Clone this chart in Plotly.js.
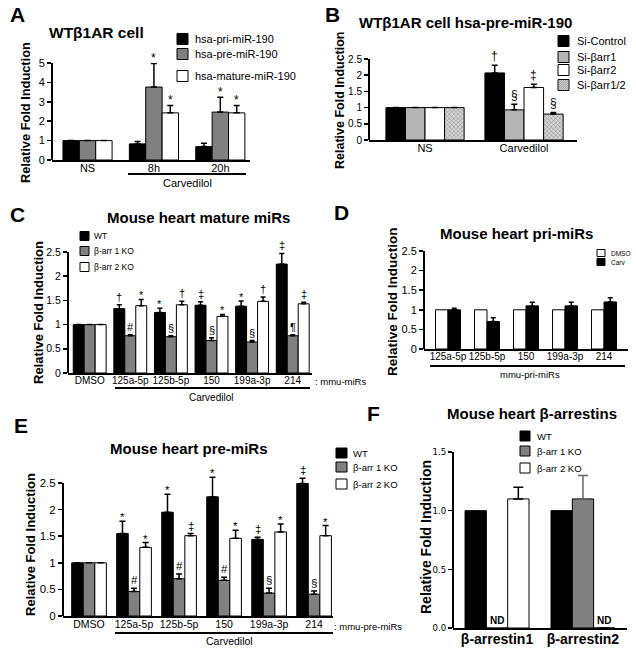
<!DOCTYPE html>
<html><head><meta charset="utf-8">
<script src="https://cdn.plot.ly/plotly-3.0.1.min.js"></script>
<style>html,body{margin:0;padding:0;background:#fff}#chart{width:636px;height:657px}</style>
</head><body><div id="chart"></div>
<script>
// ================= DATA =================
// Panel A: WTβ1AR cell
const A_groups = ['NS', '8h', '20h'];
const A_pri = [1, 0.83, 0.69];
const A_pri_err = [0, 0.12, 0.17];
const A_pre = [1, 3.76, 2.47];
const A_pre_err = [0, 1.22, 0.77];
const A_mature = [1, 2.43, 2.43];
const A_mature_err = [0, 0.38, 0.38];
const A_pri_sig = ['', '', ''];
const A_pre_sig = ['', '*', '*'];
const A_mature_sig = ['', '*', '*'];
const A_names = ['hsa-pri-miR-190', 'hsa-pre-miR-190', 'hsa-mature-miR-190'];

// Panel B: WTβ1AR cell hsa-pre-miR-190
const B_groups = ['NS', 'Carvedilol'];
const B_siControl = [1, 2.07];
const B_siControl_err = [0, 0.24];
const B_siArr1 = [1, 0.93];
const B_siArr1_err = [0, 0.17];
const B_siArr2 = [1, 1.62];
const B_siArr2_err = [0, 0.10];
const B_siArr12 = [1, 0.80];
const B_siArr12_err = [0, 0.05];
const B_siControl_sig = ['', '†'];
const B_siArr1_sig = ['', '§'];
const B_siArr2_sig = ['', '‡'];
const B_siArr12_sig = ['', '§'];
const B_names = ['Si-Control', 'Si-βarr1', 'Si-βarr2', 'Si-βarr1/2'];

// Panel C: Mouse heart mature miRs
const C_groups = ['DMSO', '125a-5p', '125b-5p', '150', '199a-3p', '214'];
const C_wt = [1, 1.33, 1.25, 1.40, 1.38, 2.25];
const C_wt_err = [0, 0.08, 0.09, 0.07, 0.11, 0.22];
const C_ko1 = [1, 0.77, 0.75, 0.67, 0.64, 0.77];
const C_ko1_err = [0, 0.02, 0.02, 0.06, 0.03, 0.02];
const C_ko2 = [1, 1.39, 1.41, 1.17, 1.48, 1.43];
const C_ko2_err = [0, 0.13, 0.07, 0.04, 0.09, 0.03];
const C_wt_sig = ['', '†', '*', '‡', '*', '‡'];
const C_ko1_sig = ['', '#', '§', '§', '§', '¶'];
const C_ko2_sig = ['', '*', '†', '*', '†', '‡'];

// Panel D: Mouse heart pri-miRs
const D_groups = ['125a-5p', '125b-5p', '150', '199a-3p', '214'];
const D_dmso = [1, 1, 1, 1, 1];
const D_carv = [1.0, 0.70, 1.10, 1.10, 1.20];
const D_carv_err = [0.04, 0.10, 0.09, 0.09, 0.11];
const D_names = ['DMSO', 'Carv'];

// Panel E: Mouse heart pre-miRs
const E_groups = ['DMSO', '125a-5p', '125b-5p', '150', '199a-3p', '214'];
const E_wt = [1, 1.55, 1.95, 2.24, 1.44, 2.49];
const E_wt_err = [0, 0.23, 0.34, 0.37, 0.04, 0.10];
const E_ko1 = [1, 0.46, 0.70, 0.67, 0.43, 0.41];
const E_ko1_err = [0, 0.06, 0.09, 0.06, 0.09, 0.06];
const E_ko2 = [1, 1.29, 1.51, 1.46, 1.58, 1.51];
const E_ko2_err = [0, 0.09, 0.04, 0.15, 0.15, 0.19];
const E_wt_sig = ['', '*', '*', '*', '‡', '‡'];
const E_ko1_sig = ['', '#', '#', '#', '§', '§'];
const E_ko2_sig = ['', '*', '‡', '*', '*', '*'];

// Panel F: Mouse heart β-arrestins
const F_groups = ['β-arrestin1', 'β-arrestin2'];
const F_wt = [1, 1];
const F_ko1 = [0, 1.1];
const F_ko1_err = [0, 0.2];
const F_ko2 = [1.1, 0];
const F_ko2_err = [0.1, 0];
const F_ko1_label = ['ND', ''];
const F_ko2_label = ['', 'ND'];

const KO_names = ['WT', 'β-arr 1 KO', 'β-arr 2 KO'];

// ================= BUILD =================
const W = 636, H = 657;
const px = x => x / W;
const py = y => 1 - y / H;
const FONT = 'Arial, "Liberation Sans", Helvetica, sans-serif';
const NARROW = '"Liberation Sans Narrow", "Arial Narrow", "DejaVu Sans Condensed", Arial, sans-serif';
const traces = [], annotations = [], shapes = [];
const layout = {
  width: W, height: H, margin: {l: 0, r: 0, t: 0, b: 0},
  barmode: 'overlay', showlegend: false,
  paper_bgcolor: '#fff', plot_bgcolor: '#fff',
  font: {family: FONT, color: '#000'}
};

function txt(x, y, text, size, opt) {
  opt = opt || {};
  annotations.push(Object.assign({
    xref: 'paper', yref: 'paper', x: px(x), y: py(y), text: text,
    showarrow: false, xanchor: 'center', yanchor: 'middle',
    font: {size: size, family: opt.family || FONT, color: '#000'}
  }, opt.extra || {}));
}
function bold(s) { return '<b>' + s + '</b>'; }
function ytitle(x, y, size) {
  txt(x, y, bold('Relative Fold Induction'), size, {extra: {textangle: -90}});
}
function legendBox(x0, yc, w, h, fill, pattern) {
  shapes.push({type: 'rect', xref: 'paper', yref: 'paper',
    x0: px(x0), x1: px(x0 + w), y0: py(yc + h / 2), y1: py(yc - h / 2),
    fillcolor: fill, line: {color: '#000', width: 1}});
  if (pattern) {
    for (let k = -h; k < w; k += 2.2) {
      const a = Math.max(0, k), b = Math.min(w, k + h);
      shapes.push({type: 'line', xref: 'paper', yref: 'paper',
        x0: px(x0 + a), y0: py(yc + h / 2 - (a - k)), x1: px(x0 + b), y1: py(yc + h / 2 - (b - k)),
        line: {color: '#777', width: 0.6}});
    }
  }
}
function hline(x0, x1, y, w) {
  shapes.push({type: 'line', xref: 'paper', yref: 'paper', x0: px(x0), x1: px(x1), y0: py(y), y1: py(y),
    line: {color: '#000', width: w || 2}});
}

function panel(n, cfg) {
  const xa = n === 1 ? 'x' : 'x' + n, ya = n === 1 ? 'y' : 'y' + n;
  const xk = n === 1 ? 'xaxis' : 'xaxis' + n, yk = n === 1 ? 'yaxis' : 'yaxis' + n;
  const top = cfg.ytop;
  const span = cfg.ydom[0] - cfg.ydom[1];
  const extra = cfg.yextra || 0;
  const topPx = cfg.ydom[1] - span * extra / top;
  layout[xk] = {
    domain: [px(cfg.xdom[0]), px(cfg.xdom[1])], anchor: ya, type: 'category',
    range: cfg.xrange, showline: true, linecolor: '#000', linewidth: 2,
    ticks: '', showgrid: false, zeroline: false, fixedrange: true, tickangle: 0,
    ticklabelstandoff: cfg.xstand !== undefined ? cfg.xstand : -3,
    tickfont: Object.assign({size: 10.5, family: FONT, color: '#000'}, cfg.xtickfont || {})
  };
  const tv = [];
  for (let v = 0; v <= top + 1e-9; v += cfg.dtick) tv.push(+v.toFixed(3));
  layout[yk] = {
    domain: [py(cfg.ydom[0]), py(topPx)], anchor: xa,
    range: [0, top + extra], tickvals: tv, tickformat: cfg.tickformat || '',
    showline: false,
    ticks: 'outside', ticklen: 4, tickwidth: 1.5, tickcolor: '#000',
    showgrid: false, zeroline: false, fixedrange: true,
    tickfont: Object.assign({size: 11, family: FONT, color: '#000'}, cfg.ytickfont || {})
  };
  shapes.push({type: 'line', xref: xa + ' domain', yref: ya, x0: 0, x1: 0, y0: 0, y1: top,
    line: {color: '#000', width: 2}});
  const ns = cfg.series.length;
  const w = cfg.group / ns;
  cfg.series.forEach((s, i) => {
    const off = -cfg.group / 2 + i * w;
    const t = {
      type: 'bar', x: cfg.cats, y: s.y, xaxis: xa, yaxis: ya,
      offset: off, width: w, cliponaxis: false,
      marker: {color: s.color, line: {color: '#000', width: 1}},
      hoverinfo: 'skip'
    };
    if (s.pattern) t.marker.pattern = s.pattern;
    if (s.err) {
      t.error_y = {type: 'data', symmetric: false, array: s.err,
        arrayminus: s.err.map(() => 0), color: s.errColor || '#000',
        thickness: 1.5, width: cfg.capw || 3};
    }
    traces.push(t);
    if (s.sig) {
      s.sig.forEach((sym, j) => {
        if (!sym) return;
        annotations.push({xref: xa, yref: ya, x: j + off + w / 2,
          y: s.y[j] + (s.err ? s.err[j] : 0), text: sym, showarrow: false,
          xanchor: 'center', yanchor: 'bottom', yshift: sym === '*' ? -4 : 0,
          font: {size: cfg.sigsize || 12, family: FONT, color: '#000'}});
      });
    }
    if (s.labels) {
      s.labels.forEach((lab, j) => {
        if (!lab) return;
        annotations.push({xref: xa, yref: ya, x: j + off + w / 2, y: 0, text: bold(lab),
          showarrow: false, xanchor: 'center', yanchor: 'bottom', yshift: 0,
          font: {size: 10, family: FONT, color: '#000'}});
      });
    }
  });
}

const BLACK = '#000', GRAY = '#808080', WHITE = '#fff', LGRAY = '#b4b4b4';

// ---- Panel A ----
panel(1, {
  xdom: [52, 250], ydom: [160, 63], ytop: 5, dtick: 1,
  xrange: [-0.535, 2.447], group: 0.74, cats: A_groups,
  xtickfont: {size: 11}, ytickfont: {size: 11},
  series: [
    {y: A_pri, err: A_pri_err, color: BLACK, sig: A_pri_sig},
    {y: A_pre, err: A_pre_err, color: GRAY, sig: A_pre_sig},
    {y: A_mature, err: A_mature_err, color: WHITE, sig: A_mature_sig}
  ]
});
txt(8, 15, bold('A'), 21, {extra: {xanchor: 'left'}});
txt(47, 32, bold('WTβ1AR cell'), 15.5, {extra: {xanchor: 'left'}});
ytitle(25, 113, 12.8);
[[39, BLACK], [54, GRAY], [76, WHITE]].forEach((r, i) => {
  legendBox(177, r[0], 11, 11, r[1]);
  txt(193, r[0], A_names[i], 11, {extra: {xanchor: 'left'}});
});
hline(128, 246, 174, 2);
txt(187, 183, 'Carvedilol', 11);

// ---- Panel B ----
panel(2, {
  xdom: [369, 577], ydom: [140, 59], ytop: 2.5, dtick: 0.5,
  xrange: [-0.566, 1.535], group: 0.79, cats: B_groups,
  xtickfont: {size: 11}, ytickfont: {size: 10},
  series: [
    {y: B_siControl, err: B_siControl_err, color: BLACK, sig: B_siControl_sig},
    {y: B_siArr1, err: B_siArr1_err, color: LGRAY, sig: B_siArr1_sig},
    {y: B_siArr2, err: B_siArr2_err, color: WHITE, sig: B_siArr2_sig},
    {y: B_siArr12, err: B_siArr12_err, color: '#c8c8c8', sig: B_siArr12_sig,
     pattern: {shape: 'x', fgcolor: '#7a7a7a', bgcolor: '#d4d4d4', size: 3, solidity: 0.25}}
  ]
});
txt(323, 15, bold('B'), 21, {extra: {xanchor: 'left'}});
txt(357, 23, bold('WTβ1AR cell hsa-pre-miR-190'), 15, {extra: {xanchor: 'left'}});
ytitle(340, 100, 12.5);
[[41, BLACK], [57, LGRAY], [70, WHITE], [85, '#d4d4d4']].forEach((r, i) => {
  legendBox(558, r[0], 11, 11, r[1], i === 3);
  txt(575, r[0], B_names[i], 11, {extra: {xanchor: 'left'}});
});

// ---- Panel C ----
panel(3, {
  xdom: [68, 312], ydom: [373, 252], ytop: 2.5, yextra: 0.3, dtick: 0.5,
  xrange: [-0.534, 5.475], group: 0.81, cats: C_groups, capw: 2.5, sigsize: 11,
  xtickfont: {size: 10}, ytickfont: {size: 10.5}, xstand: -3,
  series: [
    {y: C_wt, err: C_wt_err, color: BLACK, sig: C_wt_sig},
    {y: C_ko1, err: C_ko1_err, color: GRAY, sig: C_ko1_sig},
    {y: C_ko2, err: C_ko2_err, color: WHITE, sig: C_ko2_sig}
  ]
});
txt(8, 214, bold('C'), 21, {extra: {xanchor: 'left'}});
txt(198, 217, bold('Mouse heart mature miRs'), 15);
ytitle(38, 313, 13);
[[236, BLACK], [251, GRAY], [267, WHITE]].forEach((r, i) => {
  legendBox(80, r[0], 9, 9, r[1]);
  txt(92, r[0], KO_names[i], 8.5, {extra: {xanchor: 'left'}});
});
txt(313, 381, ': mmu-miRs', 9.5, {extra: {xanchor: 'left'}});
hline(115, 310, 388, 2);
txt(211, 397, 'Carvedilol', 10);

// ---- Panel D ----
panel(4, {
  xdom: [424, 628], ydom: [349, 251], ytop: 2.5, dtick: 0.5,
  xrange: [-0.615, 4.615], group: 0.64, cats: D_groups, capw: 2.5,
  xtickfont: {size: 10}, ytickfont: {size: 11},
  series: [
    {y: D_dmso, color: WHITE},
    {y: D_carv, err: D_carv_err, color: BLACK}
  ]
});
txt(332, 212, bold('D'), 21, {extra: {xanchor: 'left'}});
txt(516, 233, bold('Mouse heart pri-miRs'), 15);
ytitle(392, 302, 13.5);
[[253, WHITE], [262, BLACK]].forEach((r, i) => {
  legendBox(597, r[0], 8, 7, r[1]);
  txt(609, r[0], D_names[i], 6.5, {extra: {xanchor: 'left'}});
});
hline(430, 625, 366, 2);
txt(530, 374, 'mmu-pri-miRs', 9.5);

// ---- Panel E ----
panel(5, {
  xdom: [63, 333], ydom: [616, 483], ytop: 2.5, yextra: 0.3, dtick: 0.5,
  xrange: [-0.578, 5.42], group: 0.77, cats: E_groups, capw: 3, sigsize: 11.5,
  xtickfont: {size: 10.5}, ytickfont: {size: 11.5},
  series: [
    {y: E_wt, err: E_wt_err, color: BLACK, sig: E_wt_sig},
    {y: E_ko1, err: E_ko1_err, color: GRAY, sig: E_ko1_sig},
    {y: E_ko2, err: E_ko2_err, color: WHITE, sig: E_ko2_sig}
  ]
});
txt(12, 425, bold('E'), 21, {extra: {xanchor: 'left'}});
txt(189, 448, bold('Mouse heart pre-miRs'), 15);
ytitle(30, 545, 13);
[[453, BLACK], [467, GRAY], [484, WHITE]].forEach((r, i) => {
  legendBox(336, r[0], 11, 10, r[1]);
  txt(351, r[0], KO_names[i], 9.5, {extra: {xanchor: 'left'}});
});
txt(332, 626, ': mmu-pre-miRs', 9.5, {extra: {xanchor: 'left'}});
hline(115, 333, 633, 2);
txt(230, 641, 'Carvedilol', 10.5);

// ---- Panel F ----
panel(6, {
  xdom: [453, 627], ydom: [628, 452], ytop: 1.5, dtick: 0.5, tickformat: '.1f',
  xrange: [-0.512, 1.512], group: 0.744, cats: F_groups, capw: 5,
  xtickfont: {size: 14}, ytickfont: {size: 9.5, family: NARROW},
  series: [
    {y: F_wt, color: BLACK},
    {y: F_ko1, err: F_ko1_err, color: GRAY, errColor: '#666', labels: F_ko1_label},
    {y: F_ko2, err: F_ko2_err, color: WHITE, labels: F_ko2_label}
  ]
});
layout.xaxis6.ticktext = F_groups.map(bold);
layout.xaxis6.tickvals = F_groups;
txt(365, 413, bold('F'), 21, {extra: {xanchor: 'left'}});
txt(532, 413, bold('Mouse heart β-arrestins'), 15);
ytitle(426, 537, 14);
[[436, BLACK], [451, GRAY], [468, WHITE]].forEach((r, i) => {
  legendBox(520, r[0], 10, 10, r[1]);
  txt(535, r[0], KO_names[i], 9.5, {extra: {xanchor: 'left'}});
});

layout.annotations = annotations;
layout.shapes = shapes;
Plotly.newPlot('chart', traces, layout, {staticPlot: true, displayModeBar: false});
</script>
</body></html>
